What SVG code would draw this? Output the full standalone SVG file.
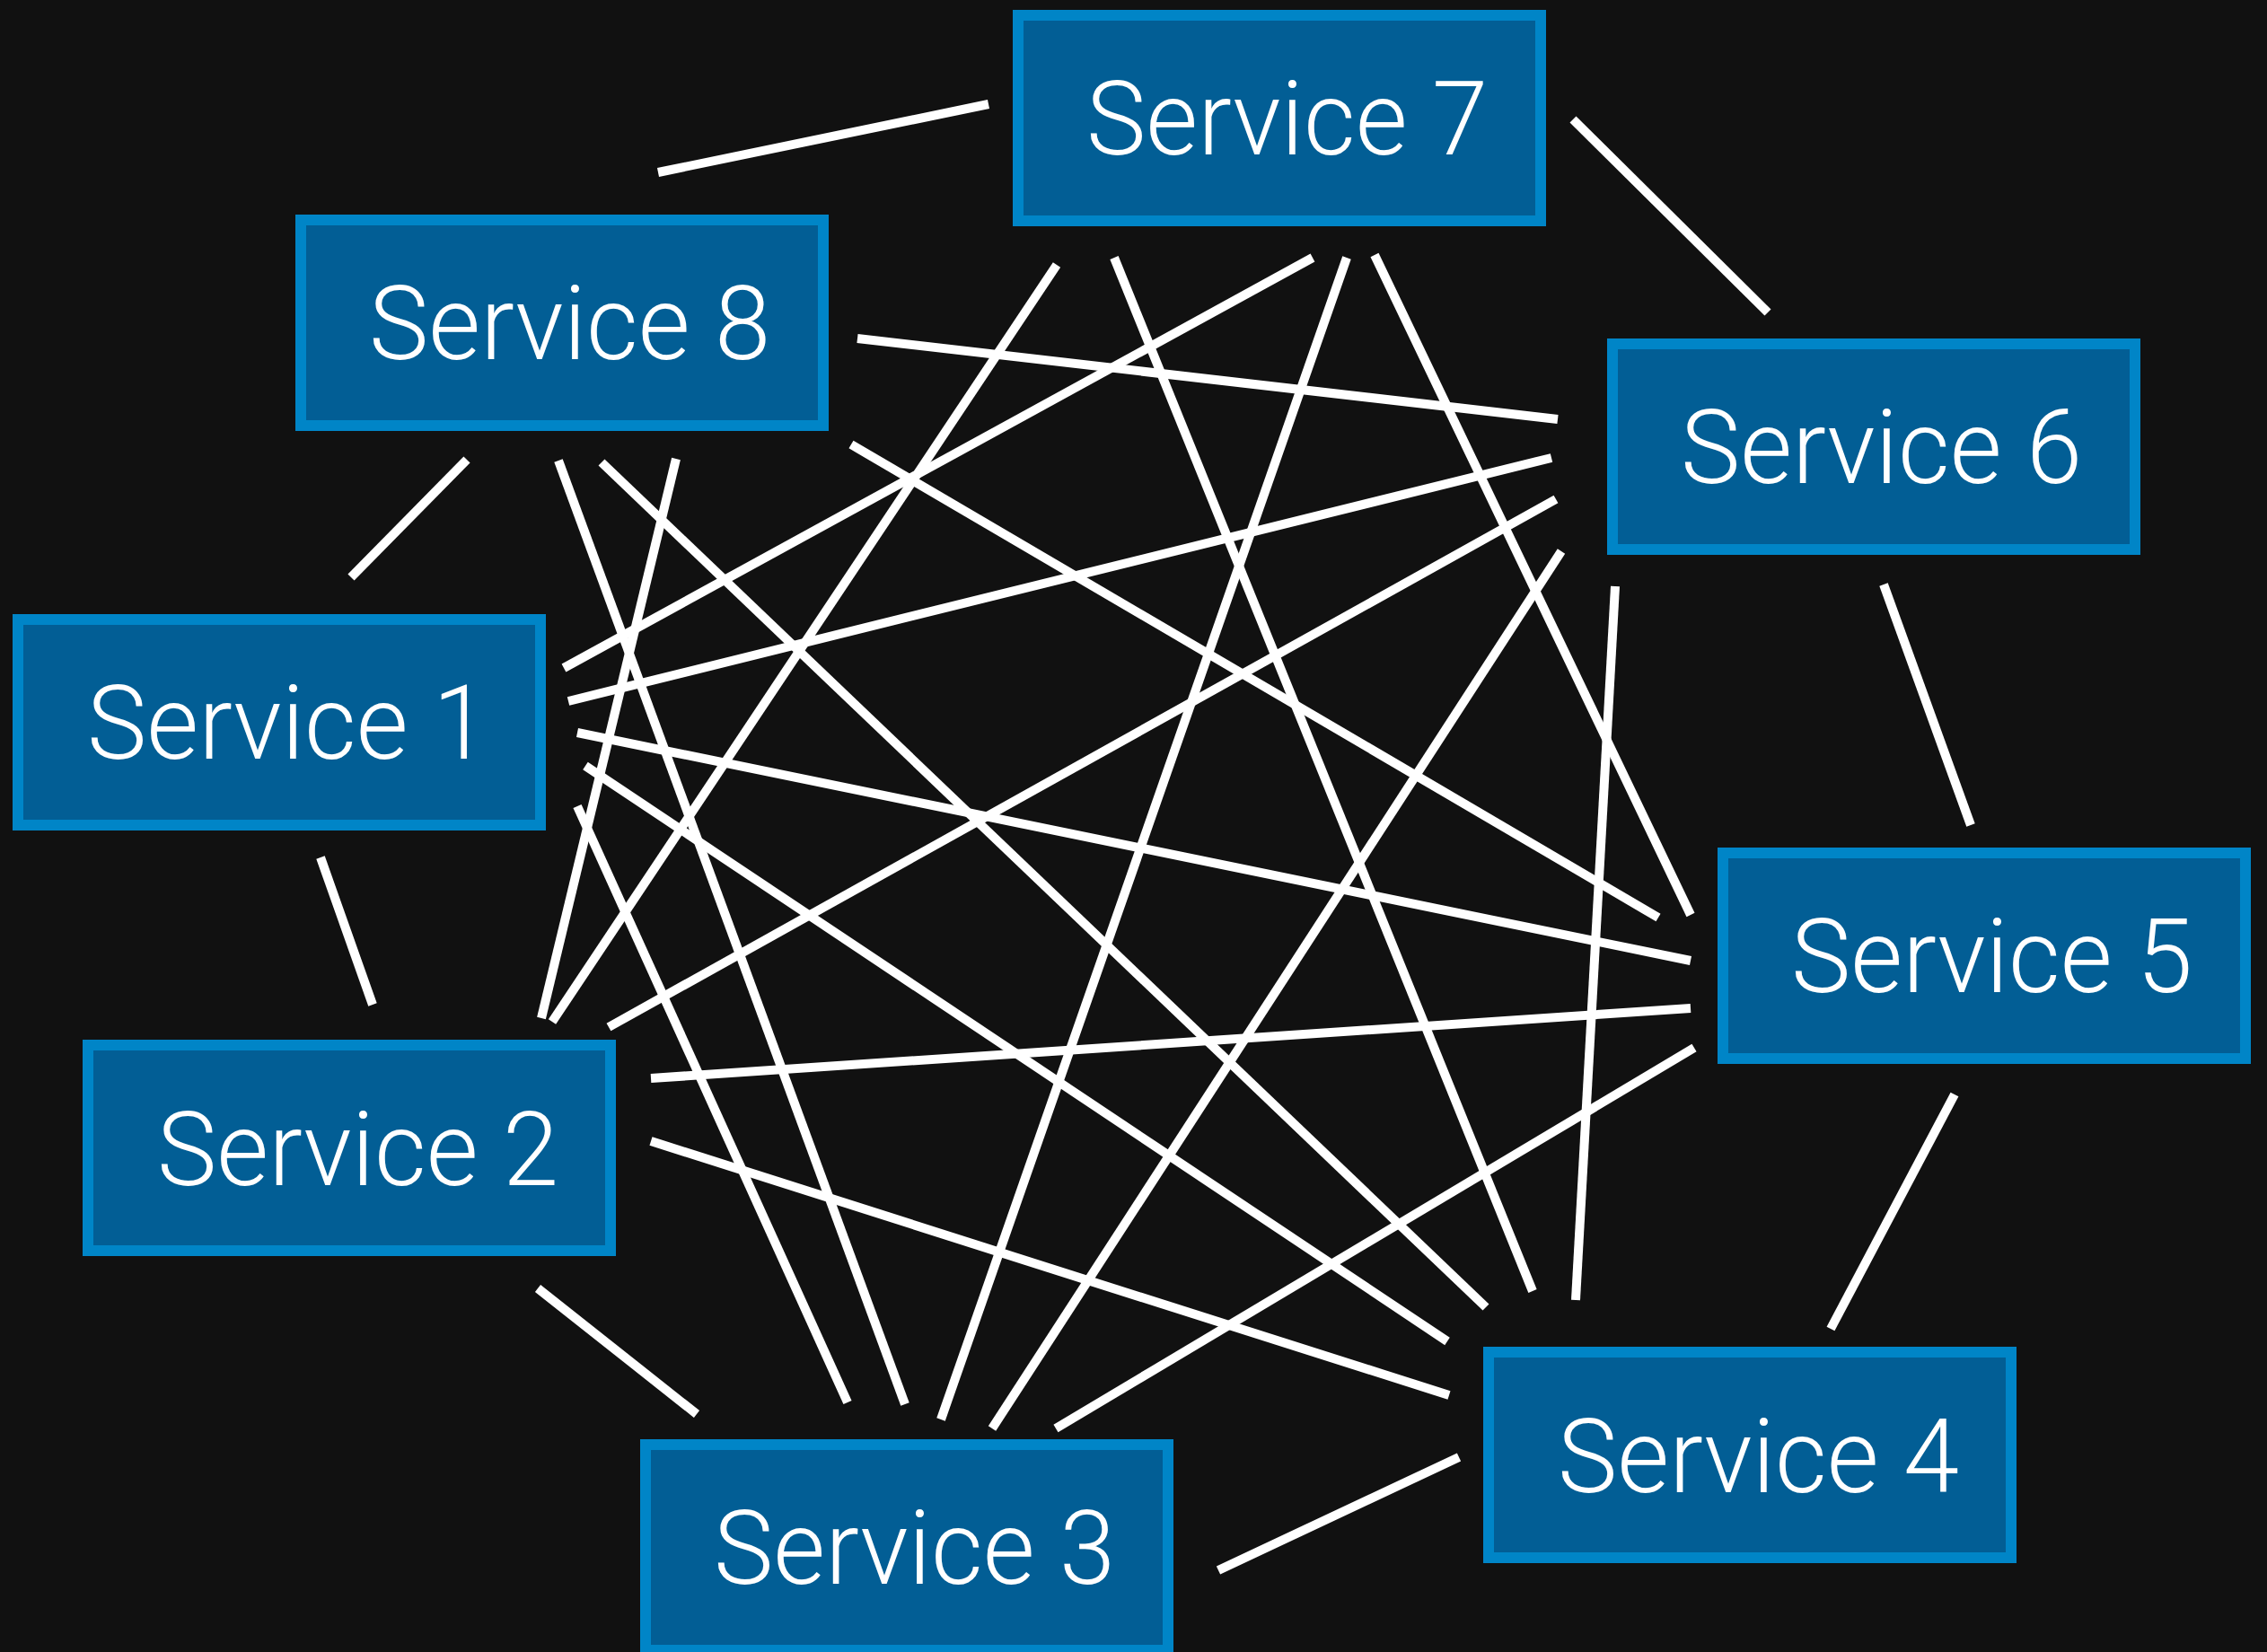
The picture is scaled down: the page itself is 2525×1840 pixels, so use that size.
<svg xmlns="http://www.w3.org/2000/svg" width="2525" height="1840" viewBox="0 0 2525 1840">
<style>
.box{fill:#025E95;stroke:#0085C7;stroke-width:12}
.lbl{fill:#FFFFFF;font-family:Roboto,"Liberation Sans",sans-serif;font-weight:300;font-size:115px}
.conn line{stroke:#FFFFFF;stroke-width:10;stroke-linecap:butt}
</style>
<rect x="0" y="0" width="2525" height="1840" fill="#111111"/>
<g id="connectors" class="conn">
<line x1="733" y1="192" x2="1101" y2="116"/>
<line x1="1752" y1="133" x2="1969" y2="348"/>
<line x1="391" y1="643" x2="520" y2="512"/>
<line x1="357" y1="955" x2="415" y2="1119"/>
<line x1="2098" y1="651" x2="2195" y2="919"/>
<line x1="2177" y1="1219" x2="2039" y2="1480"/>
<line x1="599" y1="1435" x2="776" y2="1575"/>
<line x1="1357" y1="1749" x2="1625" y2="1623"/>
<line x1="1177" y1="295" x2="615" y2="1138"/>
<line x1="1462" y1="287" x2="628" y2="744"/>
<line x1="1241" y1="287" x2="1707" y2="1438"/>
<line x1="1500" y1="287" x2="1048" y2="1581"/>
<line x1="1531" y1="284" x2="1883" y2="1019"/>
<line x1="955" y1="377" x2="1735" y2="467"/>
<line x1="948" y1="495" x2="1847" y2="1022"/>
<line x1="622" y1="513" x2="1008" y2="1564"/>
<line x1="670" y1="515" x2="1655" y2="1456"/>
<line x1="753" y1="511" x2="603" y2="1134"/>
<line x1="1728" y1="510" x2="633" y2="781"/>
<line x1="1733" y1="556" x2="678" y2="1144"/>
<line x1="1739" y1="614" x2="1105" y2="1591"/>
<line x1="1799" y1="653" x2="1755" y2="1448"/>
<line x1="643" y1="816" x2="1883" y2="1070"/>
<line x1="652" y1="853" x2="1612" y2="1494"/>
<line x1="643" y1="898" x2="944" y2="1562"/>
<line x1="725" y1="1201" x2="1883" y2="1123"/>
<line x1="725" y1="1271" x2="1614" y2="1554"/>
<line x1="1887" y1="1167" x2="1176" y2="1591"/>
</g>
<g id="service7"><rect class="box" x="1134" y="17" width="582" height="229"/><text class="lbl" x="1210" y="172" textLength="447" lengthAdjust="spacingAndGlyphs">Service 7</text></g>
<g id="service8"><rect class="box" x="335" y="245" width="582" height="229"/><text class="lbl" x="411" y="400" textLength="447" lengthAdjust="spacingAndGlyphs">Service 8</text></g>
<g id="service6"><rect class="box" x="1796" y="383" width="582" height="229"/><text class="lbl" x="1872" y="538" textLength="447" lengthAdjust="spacingAndGlyphs">Service 6</text></g>
<g id="service1"><rect class="box" x="20" y="690" width="582" height="229"/><text class="lbl" x="97" y="845" textLength="447" lengthAdjust="spacingAndGlyphs">Service 1</text></g>
<g id="service5"><rect class="box" x="1919" y="950" width="582" height="229"/><text class="lbl" x="1995" y="1105" textLength="447" lengthAdjust="spacingAndGlyphs">Service 5</text></g>
<g id="service2"><rect class="box" x="98" y="1164" width="582" height="229"/><text class="lbl" x="175" y="1320" textLength="447" lengthAdjust="spacingAndGlyphs">Service 2</text></g>
<g id="service4"><rect class="box" x="1658" y="1506" width="582" height="229"/><text class="lbl" x="1735" y="1662" textLength="447" lengthAdjust="spacingAndGlyphs">Service 4</text></g>
<g id="service3"><rect class="box" x="719" y="1609" width="582" height="229"/><text class="lbl" x="795" y="1764" textLength="447" lengthAdjust="spacingAndGlyphs">Service 3</text></g>
</svg>
